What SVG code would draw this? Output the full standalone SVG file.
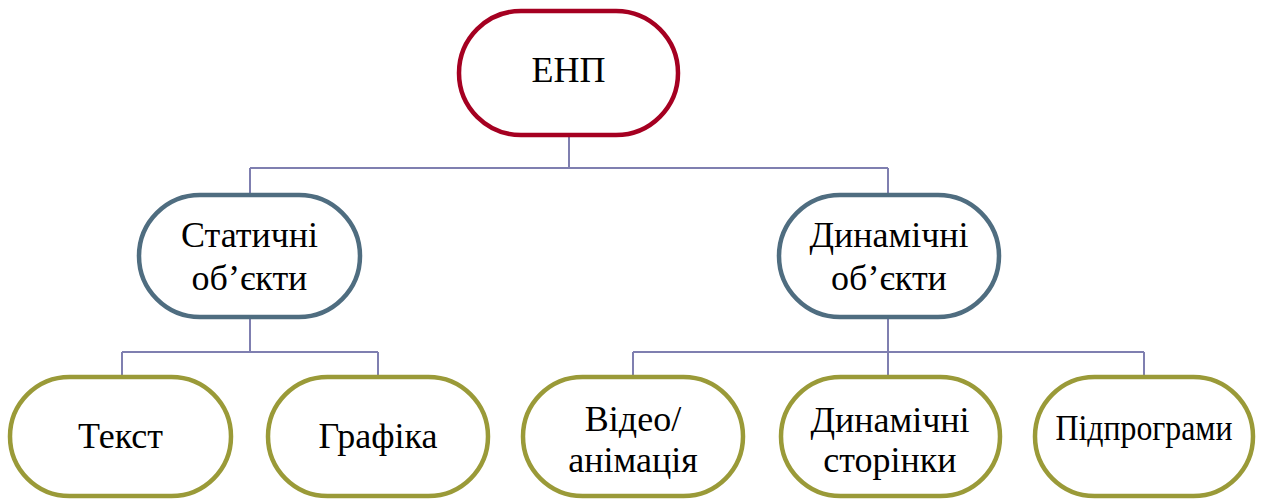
<svg xmlns="http://www.w3.org/2000/svg" width="1262" height="503" viewBox="0 0 1262 503">
<style>
.n{fill:#ffffff;stroke-width:4.5}
.r{stroke:#A50021}
.b{stroke:#4F6D80}
.o{stroke:#9A9A38}
.t{font-family:"Liberation Serif","DejaVu Serif",serif;font-size:36px;fill:#000;text-anchor:middle}
#connectors path{fill:none;stroke:#7F7FB0;stroke-width:2}
</style>
<rect width="1262" height="503" fill="#ffffff"/>
<g id="connectors">
<path d="M569 137V168M250 168H888M250 168V193M888 168V193"/>
<path d="M250 319V352M122 352H378M122 352V375M378 352V375"/>
<path d="M888 319V375M633 352H1144M633 352V375M1144 352V375"/>
</g>
<g id="enp">
<rect class="n r" x="459" y="11" width="219" height="124" rx="62"/>
<text class="t" x="568.5" y="82">ЕНП</text>
</g>
<g id="static">
<rect class="n b" x="139" y="195" width="221" height="122" rx="61"/>
<text class="t" x="249.5" y="247">Статичні</text>
<text class="t" x="249.5" y="290">об’єкти</text>
</g>
<g id="dynamic">
<rect class="n b" x="779" y="195" width="220" height="122" rx="61"/>
<text class="t" x="889" y="247">Динамічні</text>
<text class="t" x="889" y="290">об’єкти</text>
</g>
<g id="text">
<rect class="n o" x="10" y="377" width="221" height="119" rx="59.5"/>
<text class="t" x="120.5" y="448">Текст</text>
</g>
<g id="graphics">
<rect class="n o" x="268" y="377" width="220" height="119" rx="59.5"/>
<text class="t" x="378" y="448">Графіка</text>
</g>
<g id="video">
<rect class="n o" x="523" y="377" width="220" height="119" rx="59.5"/>
<text class="t" x="633" y="431">Відео/</text>
<text class="t" x="633" y="472">анімація</text>
</g>
<g id="dynpages">
<rect class="n o" x="781" y="377" width="219" height="119" rx="59.5"/>
<text class="t" x="890" y="432">Динамічні</text>
<text class="t" x="890" y="472">сторінки</text>
</g>
<g id="subprograms">
<rect class="n o" x="1035" y="377" width="218" height="119" rx="59.5"/>
<text class="t" x="1144" y="440" textLength="177" lengthAdjust="spacingAndGlyphs">Підпрограми</text>
</g>
</svg>
